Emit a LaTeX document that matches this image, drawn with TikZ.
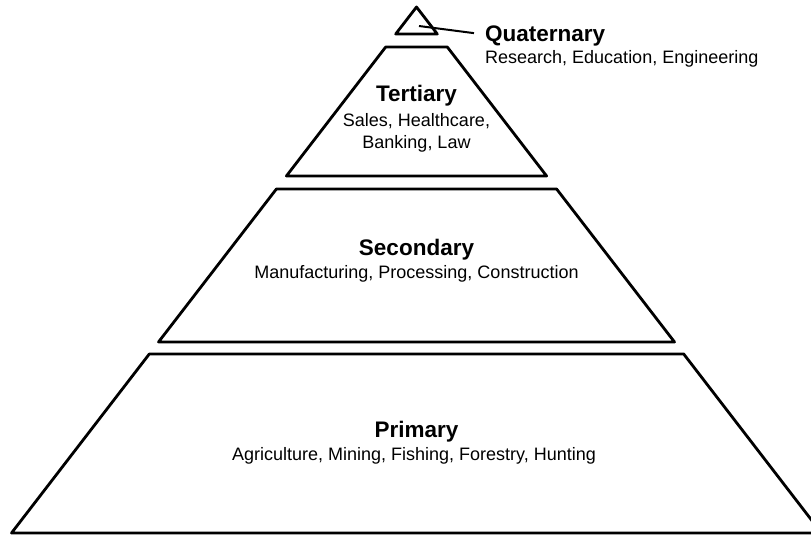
\documentclass[tikz,border=0pt]{standalone}
\usepackage{fontspec}
\setmainfont{Liberation Sans}

\begin{document}
\begin{tikzpicture}[x=1pt,y=-1pt]
\tikzset{Band/.style = {draw,line width=2.8pt,line join=round},
  TitleStyle/.style = {font=\fontsize{22.5}{27}\selectfont\bfseries,inner sep=0pt,anchor=base},
  ItemStyle/.style = {font=\fontsize{18}{22}\selectfont,inner sep=0pt,anchor=base}}
\useasboundingbox (0,0) rectangle (811,536);
\clip (0,0) rectangle (811,536);
% the four bands of the pyramid
\draw[Band] (416.5,7) -- (437.3,34) -- (395.7,34) -- cycle;
\draw[Band] (385.7,47) -- (447.3,47) -- (546.6,176) -- (286.4,176) -- cycle;
\draw[Band] (276.4,189) -- (556.6,189) -- (674.5,342) -- (158.5,342) -- cycle;
\draw[Band] (149.3,354) -- (683.7,354) -- (821.5,533) -- (11.5,533) -- cycle;
% labels
\coordinate (qTip) at (419,26);
\node[TitleStyle,anchor=base west,inner xsep=11pt,text depth=0pt] (qTitle) at (474,41) {Quaternary};
\node[ItemStyle,anchor=base west] (qItems) at (485,63) {Research, Education, Engineering};
\draw[line width=2pt] (qTip) -- (qTitle.west);
\node[TitleStyle] (tTitle) at (416.5,101) {Tertiary};
\node[ItemStyle,anchor=north,align=center] (tItems) at (416.5,113) {Sales, Healthcare,\\Banking, Law};
\node[TitleStyle] (sTitle) at (416.5,255) {Secondary};
\node[ItemStyle] (sItems) at (416.5,278) {Manufacturing, Processing, Construction};
\node[TitleStyle] (pTitle) at (416.5,437) {Primary};
\node[ItemStyle] (pItems) at (414,460) {Agriculture, Mining, Fishing, Forestry, Hunting};
\end{tikzpicture}
\end{document}
